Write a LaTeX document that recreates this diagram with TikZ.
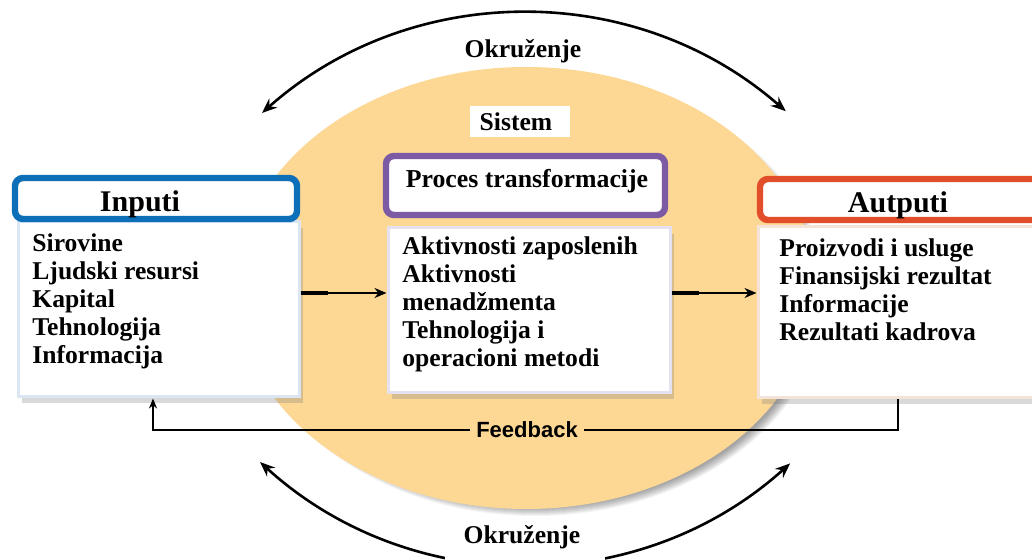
\documentclass[tikz,border=0pt]{standalone}
\usepackage{fontspec}
\setmainfont{Liberation Serif}
\setsansfont{Liberation Sans}
\usetikzlibrary{arrows.meta,fit,shadows}

\definecolor{sysfill}{HTML}{FDD794}
\definecolor{inblue}{HTML}{0C6FB8}
\definecolor{procpurple}{HTML}{7D5AA4}
\definecolor{outred}{HTML}{E24E2A}
\definecolor{inedge}{HTML}{DCE5F2}
\definecolor{procedge}{HTML}{E6E1F0}
\definecolor{outedge}{HTML}{F5E2D8}

\begin{document}
\begin{tikzpicture}[x=0.5pt,y=-0.5pt,
  head/.style={draw, line width=3.2pt, rounded corners=4pt, fill=white, inner sep=0pt},
  body/.style={draw, line width=1.5pt, fill=white, inner sep=0pt,
    drop shadow={shadow xshift=2pt, shadow yshift=-3pt, opacity=.3}},
  headtxt/.style={font=\bfseries\fontsize{15}{18}\selectfont, inner sep=0pt},
  bodytxt/.style={font=\bfseries\fontsize{12.8}{14}\selectfont, align=left,
    anchor=north west, inner sep=0pt},
  lbl/.style={font=\bfseries\fontsize{12.8}{14}\selectfont, inner sep=0pt},
  flow/.style={line width=1pt, -{Stealth[length=6pt,width=5pt]}},
  envarc/.style={line width=1.3pt, {Stealth[length=7.5pt,width=6pt,inset=2.5pt]}-{Stealth[length=7.5pt,width=6pt,inset=2.5pt]}},
]
\useasboundingbox (0,0) rectangle (1032,560);
\clip (0,0) rectangle (1032,560);

% soft shadow under the system ellipse
\foreach \k in {0,...,9}
  \fill[black, opacity=.045] (535,295) ellipse [x radius={281+\k}, y radius={212+\k}];
% the system
\fill[sysfill] (526,288) ellipse [x radius=290, y radius=221];

% environment arcs
\coordinate (tl) at (262,113);
\coordinate (bl) at (260,462);
\draw[envarc] (tl) arc[start angle=-131.6, end angle=-48.8, radius=396];
\draw[envarc] (bl) arc[start angle=132.3, end angle=48, radius=395];
\node[lbl] (envtop) at (523,51) {Okruženje};
\node[lbl, fill=white, minimum width=80pt, minimum height=20pt] (envbot) at (525,545) {};
\node[lbl] (envbottxt) at (522,537) {Okruženje};

% system label
\node[lbl, fill=white, minimum width=50pt, minimum height=15.5pt] (sys) at (520,122) {};
\node[lbl] (systxt) at (516,122) {Sistem};

% inputs
\node[body, draw=inedge, fit={(18,222) (299,397)}] (ib) {};
\node[head, draw=inblue, fit={(15,178) (297,219)}] (ih) {};
\node[headtxt] (iht) at (140,204) {Inputi};
\node[bodytxt] (ibt) at (32,233) {Sirovine\\Ljudski resursi\\Kapital\\Tehnologija\\Informacija};

% transformation process
\node[body, draw=procedge, fit={(388,228) (670,393)}] (pb) {};
\node[head, draw=procpurple, fit={(386,156) (665,215)}] (ph) {};
\node[headtxt, font=\bfseries\fontsize{12.9}{14}\selectfont] (pht) at (527,181) {Proces transformacije};
\node[bodytxt] (pbt) at (402,236) {Aktivnosti zaposlenih\\Aktivnosti\\menadžmenta\\Tehnologija i\\operacioni metodi};

% outputs
\node[body, draw=outedge, fit={(758,227) (1040,398)}] (ob) {};
\node[head, draw=outred, fit={(760,179) (1045,220)}] (oh) {};
\node[headtxt] (oht) at (898,205) {Autputi};
\node[bodytxt] (obt) at (779,238) {Proizvodi i usluge\\Finansijski rezultat\\Informacije\\Rezultati kadrova};

% flow between stages
\coordinate (row) at (0,293);
\draw[line width=2pt] (ib.east |- row) -- ++(27,0);
\draw[flow] (ib.east |- row) -- (pb.west |- row);
\draw[line width=2pt] (pb.east |- row) -- ++(27,0);
\draw[flow] (pb.east |- row) -- (ob.west |- row);

% feedback loop
\coordinate (fb) at (0,430);
\coordinate (fbr) at (898,0);
\coordinate (fbl) at (153,0);
\draw[line width=1.2pt, -{Stealth[length=5pt,width=4pt]}]
  (ob.south -| fbr) -- (fbr |- fb) -- (fbl |- fb) -- (ib.south -| fbl);
\node[fill=sysfill, inner xsep=3pt, inner ysep=1pt,
  font=\sffamily\bfseries\fontsize{11}{12}\selectfont] (fbk) at (527,430) {Feedback};
\end{tikzpicture}
\end{document}
